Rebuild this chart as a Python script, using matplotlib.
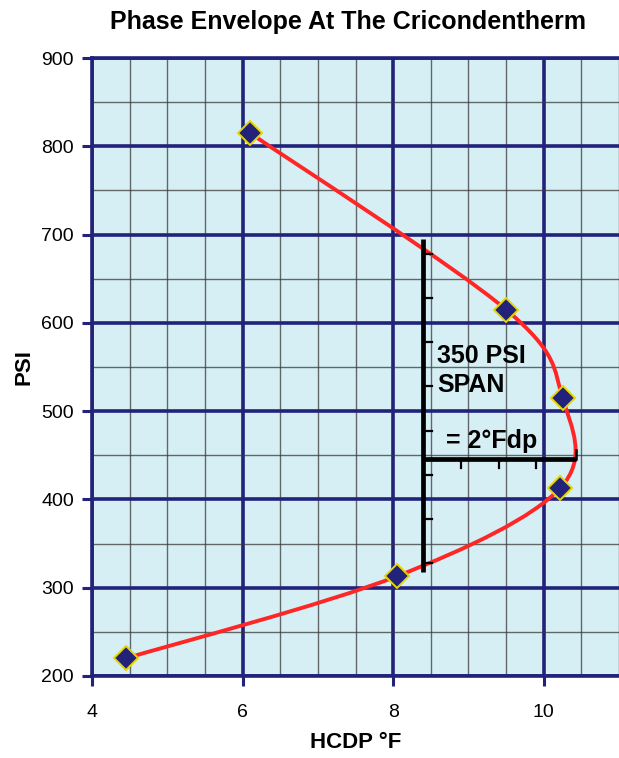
import matplotlib
matplotlib.use("Agg")
import matplotlib.pyplot as plt
import numpy as np
from matplotlib.path import Path
from matplotlib.patches import PathPatch

# values
hcdp = [4.45, 8.05, 10.22, 10.25, 9.5, 6.1]
psi = [220, 313, 413, 515, 615, 815]

x_ticks = [4, 6, 8, 10]
y_ticks = [200, 300, 400, 500, 600, 700, 800, 900]

span_x = 8.4
span_bottom = 318
span_top = 695
span_ticks_y = [328, 378, 428, 478, 528, 578, 628, 678]
dp_y = 446
dp_end = 10.43
dp_ticks_x = [8.9, 9.4, 9.9]

NAVY = "#22227a"
BG = "#d6eff4"
RED = "#ff2626"

plt.rcParams['font.family'] = ['Liberation Sans', 'DejaVu Sans']

fig = plt.figure(figsize=(6.19, 7.58), dpi=100)
ax = fig.add_axes([92 / 619, 82 / 758, 527 / 619, 618 / 758])
ax.set_facecolor(BG)
ax.set_xlim(4, 11)
ax.set_ylim(200, 900)

ax.set_xticks(x_ticks)
ax.set_yticks(y_ticks)
ax.set_xticks(np.arange(4, 11.01, 0.5), minor=True)
ax.set_yticks(np.arange(200, 901, 50), minor=True)
ax.grid(which='minor', color='#3a3a3a', linewidth=1.0, alpha=0.75)
ax.grid(which='major', color=NAVY, linewidth=2.6)
ax.set_axisbelow(True)
ax.tick_params(which='minor', length=0)
ax.tick_params(which='major', length=7, width=2.2, color=NAVY,
               labelsize=14, pad=6)
ax.tick_params(axis='x', which='major', pad=13)
for side in ['left', 'bottom', 'top']:
    ax.spines[side].set_color(NAVY)
    ax.spines[side].set_linewidth(2.6)
ax.spines['right'].set_visible(False)

ax.set_xlabel("HCDP °F", fontsize=16, fontweight='bold', labelpad=8)
ax.set_ylabel("PSI", fontsize=16, fontweight='bold', labelpad=5)
fig.text(348 / 619, 1 - 22 / 758, "Phase Envelope At The Cricondentherm",
         ha='center', va='center', fontsize=18, fontweight='bold')

# smooth line through the points (catmull-rom in screen space, like Excel)
pts = ax.transData.transform(np.column_stack([hcdp, psi]))
verts = [pts[0]]
codes = [Path.MOVETO]
n = len(pts)
for i in range(n - 1):
    p0 = pts[max(i - 1, 0)]
    p1 = pts[i]
    p2 = pts[i + 1]
    p3 = pts[min(i + 2, n - 1)]
    c1 = p1 + (p2 - p0) / 6.0
    c2 = p2 - (p3 - p1) / 6.0
    verts += [c1, c2, p2]
    codes += [Path.CURVE4] * 3
verts = ax.transData.inverted().transform(np.array(verts))
curve = PathPatch(Path(verts, codes), facecolor='none', edgecolor=RED,
                  linewidth=2.8, zorder=3, capstyle='round')
ax.add_patch(curve)
ax.plot(hcdp, psi, linestyle='none', marker='D', markersize=12,
        markerfacecolor=NAVY, markeredgecolor='#e6d600',
        markeredgewidth=1.4, zorder=4)

# span annotation
ax.plot([span_x, span_x], [span_bottom, span_top], color='black',
        linewidth=3.4, zorder=5, solid_capstyle='butt')
for ty in span_ticks_y:
    ax.plot([span_x, span_x + 0.12], [ty, ty], color='black',
            linewidth=1.6, zorder=5)
ax.plot([span_x, dp_end], [dp_y, dp_y], color='black', linewidth=3.4,
        zorder=5, solid_capstyle='butt')
for tx in dp_ticks_x:
    ax.plot([tx, tx], [dp_y, dp_y - 10], color='black', linewidth=1.6,
            zorder=5)
ax.plot([dp_end, dp_end], [dp_y, dp_y + 10], color='black', linewidth=1.8,
        zorder=5)

ax.text(8.58, 546, "350 PSI\nSPAN", fontsize=18, fontweight='bold',
        ha='left', va='center', linespacing=1.25, zorder=6)
ax.text(8.7, 466, "= 2°Fdp", fontsize=18, fontweight='bold',
        ha='left', va='center', zorder=6)

fig.savefig("out.png", dpi=100)
